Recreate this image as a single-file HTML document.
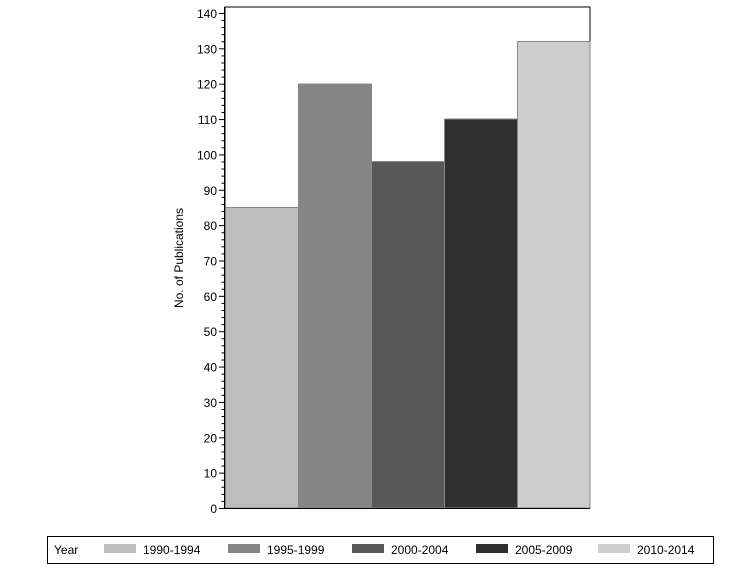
<!DOCTYPE html><html><head><style>body{margin:0;background:#fff}svg{display:block}text{font-family:"Liberation Sans",Arial,sans-serif;font-size:12px;fill:#000}</style></head><body>
<svg width="756" height="567" xmlns="http://www.w3.org/2000/svg">
<rect x="225" y="7" width="365" height="501" fill="#fff" stroke="#000"/>
<g stroke="#888" stroke-width="1">
<rect x="225.5" y="207.5" width="73" height="300.5" fill="#bdbdbd"/>
<rect x="298.5" y="84" width="73" height="424" fill="#858585"/>
<rect x="371.5" y="161.5" width="73" height="346.5" fill="#595959"/>
<rect x="444.5" y="119" width="73" height="389" fill="#2f2f2f"/>
<rect x="517.5" y="41.5" width="72.5" height="466.5" fill="#cecece"/>
</g>
<line x1="224.5" y1="7" x2="224.5" y2="509" stroke="#000"/>
<line x1="224" y1="508.5" x2="590" y2="508.5" stroke="#000"/>
<g id="ticks" stroke="#000"></g>
<g id="labels" text-anchor="end"></g>
<text transform="translate(183,258) rotate(-90)" text-anchor="middle">No. of Publications</text>
<rect x="47.5" y="536.5" width="666" height="27" fill="none" stroke="#000"/>
<text x="54" y="554">Year</text>
<rect x="104" y="544" width="32" height="9" fill="#bdbdbd"/><text x="143" y="554">1990-1994</text>
<rect x="228" y="544" width="32" height="9" fill="#858585"/><text x="267" y="554">1995-1999</text>
<rect x="352" y="544" width="32" height="9" fill="#595959"/><text x="391" y="554">2000-2004</text>
<rect x="476" y="544" width="32" height="9" fill="#2f2f2f"/><text x="515" y="554">2005-2009</text>
<rect x="598" y="544" width="32" height="9" fill="#cecece"/><text x="637" y="554">2010-2014</text>
</svg>
<script>
var t=document.getElementById('ticks'),l=document.getElementById('labels'),ns='http://www.w3.org/2000/svg';
for(var v=0;v<=140;v+=2){var y=508.5-v*3.536;var ln=document.createElementNS(ns,'line');var maj=v%10==0;
ln.setAttribute('x1',maj?219:221.5);ln.setAttribute('x2',224);ln.setAttribute('y1',y);ln.setAttribute('y2',y);t.appendChild(ln);
if(maj){var tx=document.createElementNS(ns,'text');tx.setAttribute('x',217);tx.setAttribute('y',y+4.5);tx.textContent=v;l.appendChild(tx);}}
</script>
</body></html>
